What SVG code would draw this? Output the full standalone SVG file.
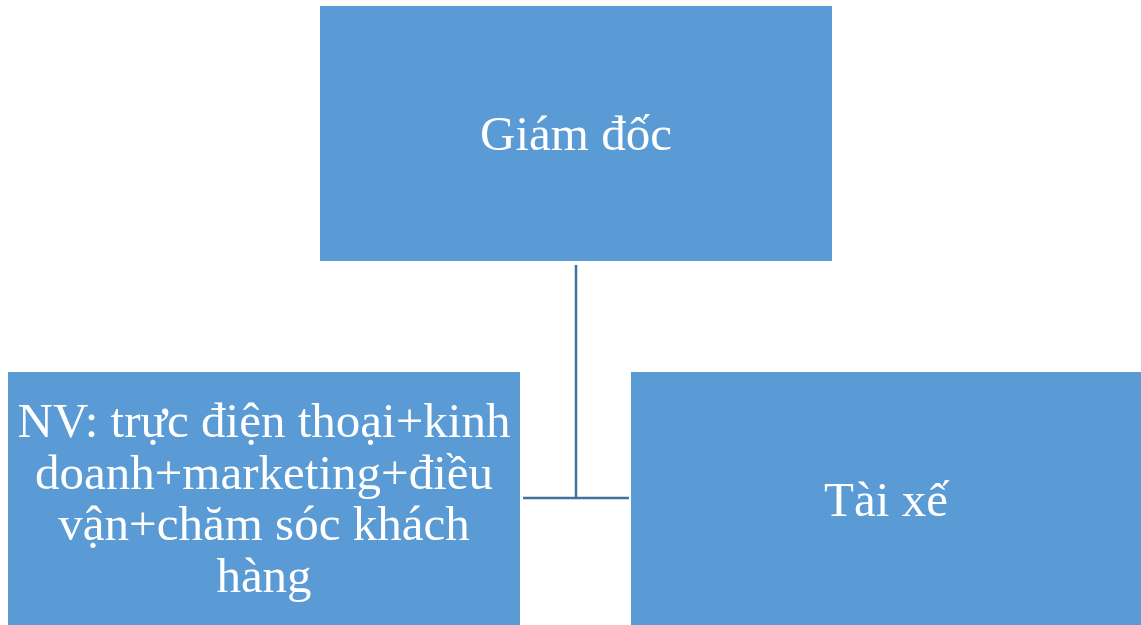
<svg xmlns="http://www.w3.org/2000/svg" width="1141" height="625" viewBox="0 0 1141 625">
  <style>
    .box { fill: #5B9BD5; }
    .label { font-family: "Liberation Serif", "Times New Roman", serif; font-size: 49px; fill: #FFFFFF; text-anchor: middle; }
    .link { stroke: #41719C; stroke-width: 2.5; fill: none; }
  </style>
  <rect width="1141" height="625" fill="#FFFFFF"/>

  <!-- connectors -->
  <g id="connectors">
    <line class="link" x1="576" y1="265" x2="576" y2="498"/>
    <line class="link" x1="523" y1="498" x2="629" y2="498"/>
  </g>

  <!-- director -->
  <g id="node-giam-doc">
    <rect class="box" x="320" y="6" width="512" height="255"/>
    <text class="label" font-size="50.5" x="576" y="150">Giám đốc</text>
  </g>

  <!-- staff -->
  <g id="node-nhan-vien">
    <rect class="box" x="8" y="372" width="512" height="253"/>
    <text class="label" font-size="49.5" x="264" y="437">NV: trực điện thoại+kinh</text>
    <text class="label" font-size="49.5" x="264" y="489">doanh+marketing+điều</text>
    <text class="label" font-size="49.5" x="264" y="540">vận+chăm sóc khách</text>
    <text class="label" font-size="49.5" x="264" y="592">hàng</text>
  </g>

  <!-- driver -->
  <g id="node-tai-xe">
    <rect class="box" x="631" y="372" width="510" height="253"/>
    <text class="label" x="886" y="516">Tài xế</text>
  </g>
</svg>
